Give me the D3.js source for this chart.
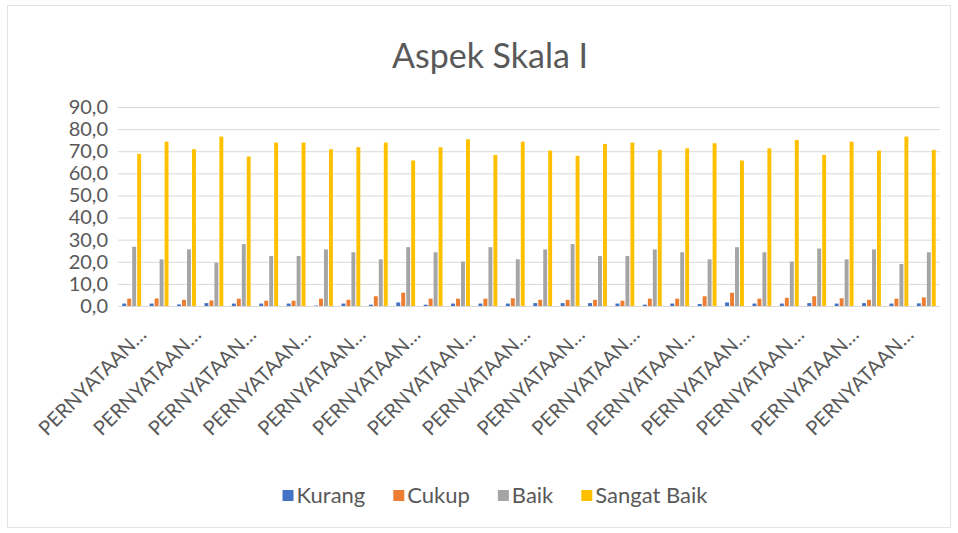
<!DOCTYPE html>
<html>
<head>
<meta charset="utf-8">
<script src="https://cdn.jsdelivr.net/npm/d3@7/dist/d3.min.js"></script>
<style>
  body { margin: 0; background: #fff; }
  text { font-family: Lato, "Open Sans", sans-serif; fill: #595959; }
</style>
</head>
<body>
<div id="chart"></div>
<script>
// kategori (nama pernyataan terpotong di sumbu)
var categories = [
  "PERNYATAAN 1", "PERNYATAAN 2", "PERNYATAAN 3", "PERNYATAAN 4", "PERNYATAAN 5",
  "PERNYATAAN 6", "PERNYATAAN 7", "PERNYATAAN 8", "PERNYATAAN 9", "PERNYATAAN 10",
  "PERNYATAAN 11", "PERNYATAAN 12", "PERNYATAAN 13", "PERNYATAAN 14", "PERNYATAAN 15",
  "PERNYATAAN 16", "PERNYATAAN 17", "PERNYATAAN 18", "PERNYATAAN 19", "PERNYATAAN 20",
  "PERNYATAAN 21", "PERNYATAAN 22", "PERNYATAAN 23", "PERNYATAAN 24", "PERNYATAAN 25",
  "PERNYATAAN 26", "PERNYATAAN 27", "PERNYATAAN 28", "PERNYATAAN 29", "PERNYATAAN 30"
];
var seriesNames = ["Kurang", "Cukup", "Baik", "Sangat Baik"];

var kurang = [1.1, 1.1, 0.7, 1.3, 1.1, 1.1, 1.1, 0.2, 1.1, 0.6,
              1.6, 0.6, 1.1, 1.1, 1.1, 1.3, 1.3, 1.3, 1.1, 0.6,
              1.1, 0.9, 1.6, 1.1, 1.1, 1.3, 1.1, 1.3, 1.1, 1.2];
var cukup = [3.3, 3.4, 2.8, 2.5, 3.3, 2.4, 2.4, 3.3, 2.8, 4.4,
             6.0, 3.3, 3.3, 3.3, 3.5, 2.8, 2.8, 2.8, 2.4, 3.3,
             3.3, 4.4, 6.0, 3.3, 3.7, 4.4, 3.5, 2.8, 3.3, 3.9];
var baik = [26.8, 21.1, 25.6, 19.6, 28.0, 22.6, 22.6, 25.6, 24.3, 21.1,
            26.6, 24.3, 20.1, 26.6, 21.1, 25.6, 28.0, 22.6, 22.6, 25.6,
            24.3, 21.1, 26.6, 24.3, 20.1, 26.0, 21.1, 25.6, 19.0, 24.3];
var sangatBaik = [68.8, 74.3, 70.9, 76.6, 67.6, 73.9, 73.9, 70.9, 71.8, 73.9,
                  65.8, 71.8, 75.4, 68.3, 74.3, 70.3, 67.9, 73.3, 73.9, 70.6,
                  71.3, 73.6, 65.8, 71.3, 75.1, 68.3, 74.3, 70.3, 76.6, 70.6];
var yTicks = [0, 10, 20, 30, 40, 50, 60, 70, 80, 90];

var colors = ["#4472C4", "#ED7D31", "#A5A5A5", "#FFC000"];
var seriesValues = [kurang, cukup, baik, sangatBaik];

// ukuran
var width = 958;
var height = 533;
var plotLeft = 118, plotRight = 940, plotTop = 107, plotBottom = 306;

var rows = categories.map(function (c, i) {
  return { name: c, values: seriesNames.map(function (s, j) { return { key: s, value: seriesValues[j][i] }; }) };
});

var svg = d3.select("#chart").append("svg")
  .attr("width", width)
  .attr("height", height);

// bingkai chart
svg.append("rect")
  .attr("x", 7.5).attr("y", 5.5)
  .attr("width", 943).attr("height", 522)
  .attr("fill", "#fff")
  .attr("stroke", "#e3e3e3");

var x0 = d3.scaleBand()
  .domain(categories)
  .range([plotLeft, plotRight])
  .paddingInner(0.3129)
  .paddingOuter(0.156);

var x1 = d3.scaleBand()
  .domain(seriesNames)
  .range([0, x0.bandwidth()])
  .paddingInner(0.2126);

var y = d3.scaleLinear()
  .domain([0, 90])
  .range([plotBottom, plotTop]);

var color = d3.scaleOrdinal().domain(seriesNames).range(colors);

// garis grid
svg.append("g")
  .selectAll("line")
  .data(yTicks).enter()
  .append("line")
  .attr("x1", plotLeft).attr("x2", plotRight)
  .attr("y1", d => y(d) + 0.5).attr("y2", d => y(d) + 0.5)
  .attr("stroke", "#d9d9d9")
  .attr("stroke-width", 1);

// label sumbu y
var yAxis = d3.axisLeft(y)
  .tickValues(yTicks)
  .tickSize(0)
  .tickPadding(10)
  .tickFormat(d => d3.format(".1f")(d).replace(".", ","));

svg.append("g")
  .attr("transform", `translate(${plotLeft}, 0)`)
  .call(yAxis)
  .call(g => g.select(".domain").remove())
  .selectAll("text")
  .attr("font-family", "Lato, 'Open Sans', sans-serif")
  .style("font-size", "20px")
  .style("fill", "#595959");

// batang
svg.append("g")
  .selectAll("g")
  .data(rows).enter()
  .append("g")
  .attr("transform", d => `translate(${x0(d.name)}, 0)`)
  .selectAll("rect")
  .data(d => d.values).enter()
  .append("rect")
  .attr("x", d => x1(d.key))
  .attr("width", x1.bandwidth())
  .attr("y", d => y(d.value))
  .attr("height", d => y(0) - y(d.value))
  .attr("fill", d => color(d.key));

// sumbu x
var xAxis = d3.axisBottom(x0)
  .tickValues(categories.filter((c, i) => i % 2 === 0))
  .tickSize(0)
  .tickFormat(d => "PERNYATAAN…");

svg.append("g")
  .attr("transform", `translate(0, ${plotBottom})`)
  .call(xAxis)
  .call(g => g.select(".domain").attr("stroke", "#d9d9d9").attr("d", `M${plotLeft},0.5H${plotRight}`))
  .selectAll("text")
  .attr("font-family", "Lato, 'Open Sans', sans-serif")
  .style("font-size", "20px")
  .style("fill", "#595959")
  .attr("text-anchor", "end")
  .attr("dy", 0)
  .attr("y", 0)
  .attr("transform", "translate(16, 30) rotate(-45)");

// judul
svg.append("text")
  .attr("x", 490)
  .attr("y", 68)
  .attr("text-anchor", "middle")
  .style("font-size", "34px")
  .text("Aspek Skala I");

// legenda
var legend = svg.append("g").attr("class", "legend");
var lx = 0;
seriesNames.forEach(function (s, i) {
  var item = legend.append("g").attr("transform", `translate(${lx}, 0)`);
  item.append("rect")
    .attr("x", 0).attr("y", -13)
    .attr("width", 11).attr("height", 11)
    .attr("fill", colors[i]);
  var t = item.append("text")
    .attr("x", 14).attr("y", 0)
    .style("font-size", "22px")
    .text(s);
  lx += 14 + t.node().getComputedTextLength() + 28;
});
lx -= 28;
legend.attr("transform", `translate(${495 - lx / 2}, 503)`);
</script>
</body>
</html>
